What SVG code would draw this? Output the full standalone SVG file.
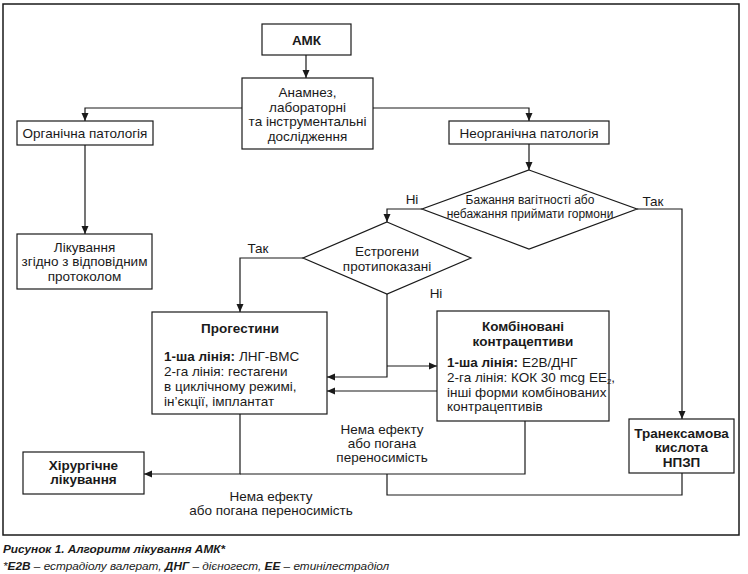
<svg xmlns="http://www.w3.org/2000/svg" width="748" height="574" viewBox="0 0 748 574">
<defs>
<marker id="ah" markerWidth="8" markerHeight="8" refX="8" refY="4" orient="auto" markerUnits="userSpaceOnUse">
<path d="M0,0.5 L8,4 L0,7.5 Z" fill="#1a1a1a"/>
</marker>
<style>
.box{fill:#fff;stroke:#1a1a1a;stroke-width:1.2}
.frame{fill:#fff;stroke:#1a1a1a;stroke-width:1.5}
.t{font-family:"Liberation Sans Narrow","Liberation Sans",Arial,sans-serif;font-size:13.5px;fill:#1a1a1a}
.c{text-anchor:middle}
.b{font-weight:bold}
.s{font-size:12px}
.con path{fill:none;stroke:#1a1a1a;stroke-width:1.2}
.arr{marker-end:url(#ah)}
.cap{font-family:"Liberation Sans Narrow","Liberation Sans",Arial,sans-serif;font-size:11.8px;font-style:italic;fill:#1a1a1a}
</style>
</defs>
<rect class="frame" x="3" y="4" width="736" height="531"/>

<g class="con">
<path class="arr" d="M306,55 V78"/>
<path class="arr" d="M242,108 H85 V121"/>
<path class="arr" d="M373,108 H529 V121"/>
<path class="arr" d="M85,145 V234"/>
<path class="arr" d="M529,144 V170"/>
<path class="arr" d="M422,209 H387 V222"/>
<path class="arr" d="M637,209 H682 V419"/>
<path class="arr" d="M303,258 H240 V312"/>
<path class="arr" d="M387,294 V377 H327"/>
<path class="arr" d="M387,366 H437"/>
<path class="arr" d="M437,391 H327"/>
<path class="arr" d="M240,414 V474 H144"/>
<path d="M525,421 V474 H240"/>
<path d="M682,473 V495 H387 V474"/>
</g>

<g id="amk">
<rect class="box" x="262" y="24" width="89" height="31"/>
<text class="t c b" x="306.5" y="44.5">АМК</text>
</g>
<g id="anamnez">
<rect class="box" x="242" y="78" width="131" height="71"/>
<text class="t c" x="307.5" y="97">Анамнез,</text>
<text class="t c" x="307.5" y="111.5">лабораторні</text>
<text class="t c" x="307.5" y="126">та інструментальні</text>
<text class="t c" x="307.5" y="140.5">дослідження</text>
</g>
<g id="organic">
<rect class="box" x="17" y="121" width="136" height="24"/>
<text class="t c" x="85" y="138">Органічна патологія</text>
</g>
<g id="inorganic">
<rect class="box" x="449" y="121" width="160" height="23"/>
<text class="t c" x="529" y="137.5">Неорганічна патологія</text>
</g>
<g id="treatment-protocol">
<rect class="box" x="17" y="234" width="135" height="55"/>
<text class="t c" x="84.5" y="251.5">Лікування</text>
<text class="t c" x="84.5" y="266">згідно з відповідним</text>
<text class="t c" x="84.5" y="280.5">протоколом</text>
</g>
<g id="pregnancy-diamond">
<polygon class="box" points="529,170 637,209 529,249 422,209"/>
<text class="t c s" x="530" y="204">Бажання вагітності або</text>
<text class="t c s" x="530" y="218">небажання приймати гормони</text>
</g>
<g id="estrogen-diamond">
<polygon class="box" points="387,222 471,258 387,294 303,258"/>
<text class="t c" x="387" y="256">Естрогени</text>
<text class="t c" x="387" y="270.5">протипоказані</text>
</g>
<g id="progestins">
<rect class="box" x="152" y="312" width="175" height="102"/>
<text class="t c b" x="240" y="333">Прогестини</text>
<text class="t" x="164" y="361"><tspan class="b">1-ша лінія:</tspan> ЛНГ-ВМС</text>
<text class="t" x="164" y="376">2-га лінія: гестагени</text>
<text class="t" x="164" y="391">в циклічному режимі,</text>
<text class="t" x="164" y="406">ін’єкції, імплантат</text>
</g>
<g id="combined">
<rect class="box" x="437" y="311" width="172" height="110"/>
<text class="t c b" x="523" y="331">Комбіновані</text>
<text class="t c b" x="523" y="346">контрацептиви</text>
<text class="t" x="447" y="367"><tspan class="b">1-ша лінія:</tspan> Е2В/ДНГ</text>
<text class="t" x="447" y="382">2-га лінія: КОК 30 mcg EE<tspan font-size="8" dy="2">2</tspan><tspan dy="-2">,</tspan></text>
<text class="t" x="447" y="397">інші форми комбінованих</text>
<text class="t" x="447" y="411">контрацептивів</text>
</g>
<g id="tranexamic">
<rect class="box" x="629" y="419" width="105" height="54"/>
<text class="t c b" x="681.5" y="437.5">Транексамова</text>
<text class="t c b" x="681.5" y="452">кислота</text>
<text class="t c b" x="681.5" y="466.5">НПЗП</text>
</g>
<g id="surgery">
<rect class="box" x="23" y="452" width="121" height="42"/>
<text class="t c b" x="83.5" y="470">Хірургічне</text>
<text class="t c b" x="83.5" y="484">лікування</text>
</g>

<g id="labels">
<text class="t c" x="412" y="203.5">Ні</text>
<text class="t c" x="653" y="206">Так</text>
<text class="t c" x="258" y="253">Так</text>
<text class="t c" x="436" y="297.5">Ні</text>
<text class="t c" x="382" y="434">Нема ефекту</text>
<text class="t c" x="382" y="448">або погана</text>
<text class="t c" x="382" y="462">переносимість</text>
<text class="t c" x="271" y="501">Нема ефекту</text>
<text class="t c" x="271" y="515">або погана переносимість</text>
</g>

<g id="caption">
<text class="cap b" x="3" y="553">Рисунок 1. Алгоритм лікування АМК*</text>
<text class="cap" x="3" y="570">*<tspan class="b">Е2В</tspan> – естрадіолу валерат, <tspan class="b">ДНГ</tspan> – дієногест, <tspan class="b">ЕЕ</tspan> – етинілестрадіол</text>
</g>
</svg>
